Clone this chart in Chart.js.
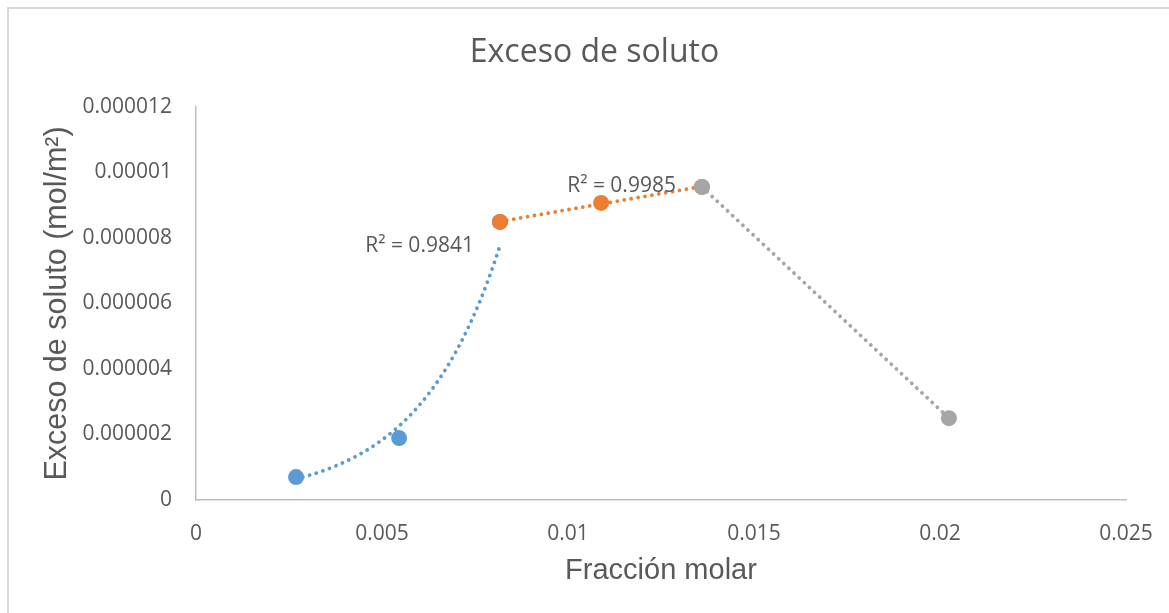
<!DOCTYPE html>
<html>
<head>
<meta charset="utf-8">
<title>Exceso de soluto</title>
<script src="https://cdn.jsdelivr.net/npm/chart.js@4.4.1/dist/chart.umd.min.js"></script>
<style>
  html, body { margin: 0; padding: 0; background: #fff; }
  #wrap { position: relative; width: 1169px; height: 613px; overflow: hidden; }
  #marco { position: absolute; left: 7px; top: 7px; width: 1200px; height: 640px; border: 2px solid #d9d9d9; box-sizing: border-box; }
  canvas { position: absolute; left: 0; top: 0; }
</style>
</head>
<body>
<div id="wrap">
  <div id="marco"></div>
  <canvas id="myChart" width="1169" height="613"></canvas>
</div>
<script>
// fracción molar (x) y exceso de soluto en mol/m2 (y) de cada tramo
var serie1X = [0.00269, 0.00546, 0.00817];
var serie1Y = [0.00000070, 0.00000189, 0.00000849];
var serie2X = [0.00817, 0.01089, 0.01360];
var serie2Y = [0.00000849, 0.00000907, 0.00000956];
var serie3X = [0.01360, 0.02024];
var serie3Y = [0.00000956, 0.00000250];

// R² que muestra Excel en cada línea de tendencia
var r2Textos = ['R² = 0.9841', 'R² = 0.9985'];

// ejes
var xTicks = [0, 0.005, 0.01, 0.015, 0.02, 0.025];
var xTickLabels = ['0', '0.005', '0.01', '0.015', '0.02', '0.025'];
var yTicks = [0, 0.000002, 0.000004, 0.000006, 0.000008, 0.00001, 0.000012];
var yTickLabels = ['0', '0.000002', '0.000004', '0.000006', '0.000008', '0.00001', '0.000012'];

var azul = '#5B9BD5';
var naranja = '#ED7D31';
var gris = '#A5A5A5';
var texto = '#595959';

function puntos(xs, ys) {
    return xs.map(function(x, i) { return {x: x, y: ys[i]}; });
}

// mínimos cuadrados y = a + b*x
function ajusteLineal(xs, ys) {
    var n = xs.length, mx = 0, my = 0, sxx = 0, sxy = 0;
    for (var i = 0; i < n; i++) { mx += xs[i] / n; my += ys[i] / n; }
    for (var j = 0; j < n; j++) {
        sxx += (xs[j] - mx) * (xs[j] - mx);
        sxy += (xs[j] - mx) * (ys[j] - my);
    }
    var b = sxy / sxx, a = my - b * mx;
    return function(x) { return a + b * x; };
}

// tendencia exponencial y = a*e^(b*x), ajustada sobre ln(y)
function ajusteExponencial(xs, ys) {
    var f = ajusteLineal(xs, ys.map(Math.log));
    return function(x) { return Math.exp(f(x)); };
}

// recorre la tendencia entre el primer y el último punto de la serie
function curva(f, xs, pasos) {
    var x0 = Math.min.apply(null, xs), x1 = Math.max.apply(null, xs);
    var out = [];
    for (var i = 0; i <= pasos; i++) {
        var x = x0 + (x1 - x0) * i / pasos;
        out.push({x: x, y: f(x)});
    }
    return out;
}

function serie(data, color, orden) {
    return {
        data: data,
        backgroundColor: color,
        borderColor: color,
        pointRadius: 8,
        pointHoverRadius: 8,
        pointBorderWidth: 0,
        showLine: false,
        order: orden
    };
}

function tendencia(data, color, orden, r2) {
    return {
        data: data,
        borderColor: color,
        borderWidth: 3.8,
        borderDash: [0.01, 7],
        borderCapStyle: 'round',
        pointRadius: 0,
        pointHoverRadius: 0,
        showLine: true,
        tension: 0,
        order: orden,
        r2: r2
    };
}

// etiqueta R² a la izquierda del final de cada tendencia
var etiquetasR2 = {
    id: 'etiquetasR2',
    afterDatasetsDraw: function(chart) {
        var ctx = chart.ctx;
        ctx.save();
        ctx.font = '21px "Open Sans"';
        ctx.fillStyle = texto;
        ctx.textAlign = 'right';
        ctx.textBaseline = 'middle';
        chart.data.datasets.forEach(function(ds, i) {
            if (!ds.r2) return;
            var meta = chart.getDatasetMeta(i);
            var fin = meta.data[meta.data.length - 1];
            ctx.fillText(ds.r2, fin.x - 26, fin.y);
        });
        ctx.restore();
    }
};

Chart.defaults.font.family = '"Open Sans"';
Chart.defaults.color = texto;

var ctx = document.getElementById('myChart').getContext('2d');
var myChart = new Chart(ctx, {
    type: 'scatter',
    data: {
        datasets: [
            serie(puntos(serie1X, serie1Y), azul, 6),
            tendencia(curva(ajusteExponencial(serie1X, serie1Y), serie1X, 60), azul, 5, r2Textos[0]),
            serie(puntos(serie2X, serie2Y), naranja, 4),
            tendencia(curva(ajusteLineal(serie2X, serie2Y), serie2X, 1), naranja, 3, r2Textos[1]),
            serie(puntos(serie3X, serie3Y), gris, 2),
            tendencia(curva(ajusteLineal(serie3X, serie3Y), serie3X, 1), gris, 1, null)
        ]
    },
    options: {
        responsive: false,
        animation: false,
        layout: {
            padding: {left: 63, right: 43, top: 0, bottom: 0}
        },
        plugins: {
            legend: {display: false},
            tooltip: {enabled: false},
            title: {
                display: true,
                text: 'Exceso de soluto',
                color: texto,
                font: {size: 32, weight: 400},
                padding: {top: 34, bottom: 34.6}
            }
        },
        scales: {
            x: {
                type: 'linear',
                min: 0,
                max: 0.025,
                afterBuildTicks: function(scale) {
                    scale.ticks = xTicks.map(function(v) { return {value: v}; });
                },
                afterFit: function(scale) {
                    scale.height = 113;
                    // el margen derecho ya deja sitio a "0.025"
                    scale.paddingLeft = 0;
                    scale.paddingRight = 0;
                },
                ticks: {
                    padding: 21,
                    font: {size: 21},
                    color: texto,
                    maxRotation: 0,
                    callback: function(value, index) { return xTickLabels[index]; }
                },
                grid: {drawOnChartArea: false, drawTicks: false},
                border: {display: true, color: '#BFBFBF', width: 1.5},
                title: {
                    display: true,
                    text: 'Fracción molar',
                    color: texto,
                    font: {family: '"Liberation Sans"', size: 29},
                    padding: {top: 0, bottom: 25}
                }
            },
            y: {
                type: 'linear',
                min: 0,
                max: 0.000012,
                afterBuildTicks: function(scale) {
                    scale.ticks = yTicks.map(function(v) { return {value: v}; });
                },
                afterFit: function(scale) { scale.width = 133; },
                ticks: {
                    padding: 24,
                    font: {size: 21},
                    color: texto,
                    callback: function(value, index) { return yTickLabels[index]; }
                },
                grid: {drawOnChartArea: false, drawTicks: false},
                border: {display: true, color: '#BFBFBF', width: 1.5},
                title: {
                    display: true,
                    text: 'Exceso de soluto (mol/m²)',
                    color: texto,
                    font: {family: '"Liberation Sans"', size: 30.5},
                    // el título queda a la izquierda del relleno del eje
                    padding: {top: -24, bottom: 0}
                }
            }
        }
    },
    plugins: [etiquetasR2]
});
</script>
</body>
</html>
